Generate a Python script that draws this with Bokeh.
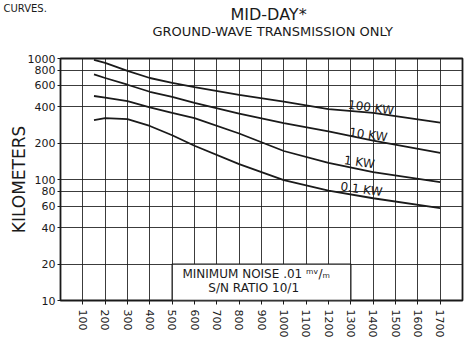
import math
from bokeh.plotting import figure
from bokeh.models import FixedTicker, NumeralTickFormatter, Label, Title
from bokeh.embed import file_html
from bokeh.resources import INLINE

# ---- data ----
freq_khz = [150, 200, 300, 400, 500, 600, 800, 1000, 1200, 1400, 1700]
km_100kw = [975, 920, 790, 690, 630, 580, 500, 440, 382, 355, 295]
km_10kw = [740, 690, 607, 531, 482, 430, 350, 292, 250, 210, 166]
km_1kw = [490, 475, 445, 395, 355, 322, 240, 172, 137, 115, 95]
km_01kw = [310, 322, 315, 277, 232, 190, 134, 99, 81, 70, 58]
series_labels = ["100 KW", "10 KW", "1 KW", "0.1 KW"]
x_ticks = list(range(100, 1800, 100))
y_ticks = [10, 20, 40, 60, 80, 100, 200, 400, 600, 800, 1000]

FONT = "DejaVu Sans"
INK = "#1a1a1a"

p = figure(width=469, height=346, x_range=(0, 1800), y_range=(10, 1000),
           y_axis_type="log", output_backend="svg", toolbar_location=None,
           min_border_left=60, min_border_right=7, min_border_top=58,
           min_border_bottom=46, background_fill_color="white",
           border_fill_color="white")
p.title.visible = False

p.outline_line_color = INK
p.outline_line_width = 1.8

# axes
p.xaxis.ticker = FixedTicker(ticks=x_ticks)
p.yaxis.ticker = FixedTicker(ticks=y_ticks)
p.yaxis.formatter = NumeralTickFormatter(format="0")
for ax in (p.xaxis, p.yaxis):
    ax.axis_line_color = None
    ax.minor_tick_line_color = None
    ax.major_tick_in = 0
    ax.major_tick_line_color = INK
    ax.major_label_text_color = INK
    ax.major_label_text_font = FONT
p.yaxis.major_tick_out = 3
p.yaxis.major_label_standoff = 2
p.yaxis.major_label_text_font_size = "11px"
p.yaxis.axis_label = "KILOMETERS"
p.yaxis.axis_label_text_font = FONT
p.yaxis.axis_label_text_font_size = "17px"
p.yaxis.axis_label_text_font_style = "normal"
p.yaxis.axis_label_text_color = INK
p.yaxis.axis_label_standoff = -4
p.xaxis.major_tick_out = 4
p.xaxis.major_label_standoff = 5
p.xaxis.major_label_text_font_size = "11px"
p.xaxis.major_label_orientation = "vertical"

# grid
p.xgrid.ticker = FixedTicker(ticks=x_ticks)
p.ygrid.ticker = FixedTicker(ticks=y_ticks)
for g in (p.xgrid, p.ygrid):
    g.grid_line_color = INK
    g.grid_line_width = 1
    g.grid_line_alpha = 0.85

# noise box
p.quad(left=[500], right=[1300], bottom=[10], top=[20], fill_color="white",
       line_color=INK, line_width=1.3)
p.add_layout(Label(x=885, y=16.6, text="MINIMUM  NOISE .01 ᵐᵛ/ₘ", text_font=FONT,
                   text_font_size="12px", text_color=INK, text_align="center",
                   text_baseline="middle"))
p.add_layout(Label(x=865, y=12.6, text="S/N RATIO 10/1", text_font=FONT,
                   text_font_size="12px", text_color=INK, text_align="center",
                   text_baseline="middle"))

# curves
for ys in (km_100kw, km_10kw, km_1kw, km_01kw):
    p.line(freq_khz, ys, line_color=INK, line_width=1.8)

label_pos = [(1390, 392), (1378, 234), (1338, 139), (1347, 83)]
for (lx, ly), txt in zip(label_pos, series_labels):
    p.add_layout(Label(x=lx, y=ly, text=txt, text_font=FONT, text_font_size="12px",
                       text_color=INK, text_align="center", text_baseline="middle",
                       angle=-0.14))

# titles, stacked outward from the frame
p.add_layout(Title(text=" ", text_font=FONT, text_font_size="6px", standoff=0), "above")
p.add_layout(Title(text="GROUND-WAVE TRANSMISSION ONLY", text_font=FONT,
                   text_font_size="13px", text_font_style="normal", text_color=INK,
                   align="left", offset=92, standoff=15.6, vertical_align="top"), "above")
p.add_layout(Title(text="MID-DAY*", text_font=FONT, text_font_size="16px",
                   text_font_style="normal", text_color=INK, align="left",
                   offset=170, standoff=-17.6, vertical_align="top"), "above")
p.add_layout(Title(text="CURVES.", text_font=FONT, text_font_size="10px",
                   text_font_style="normal", text_color=INK, align="left",
                   offset=-57, standoff=0), "above")

open("out.html", "w").write(file_html(p, INLINE))
